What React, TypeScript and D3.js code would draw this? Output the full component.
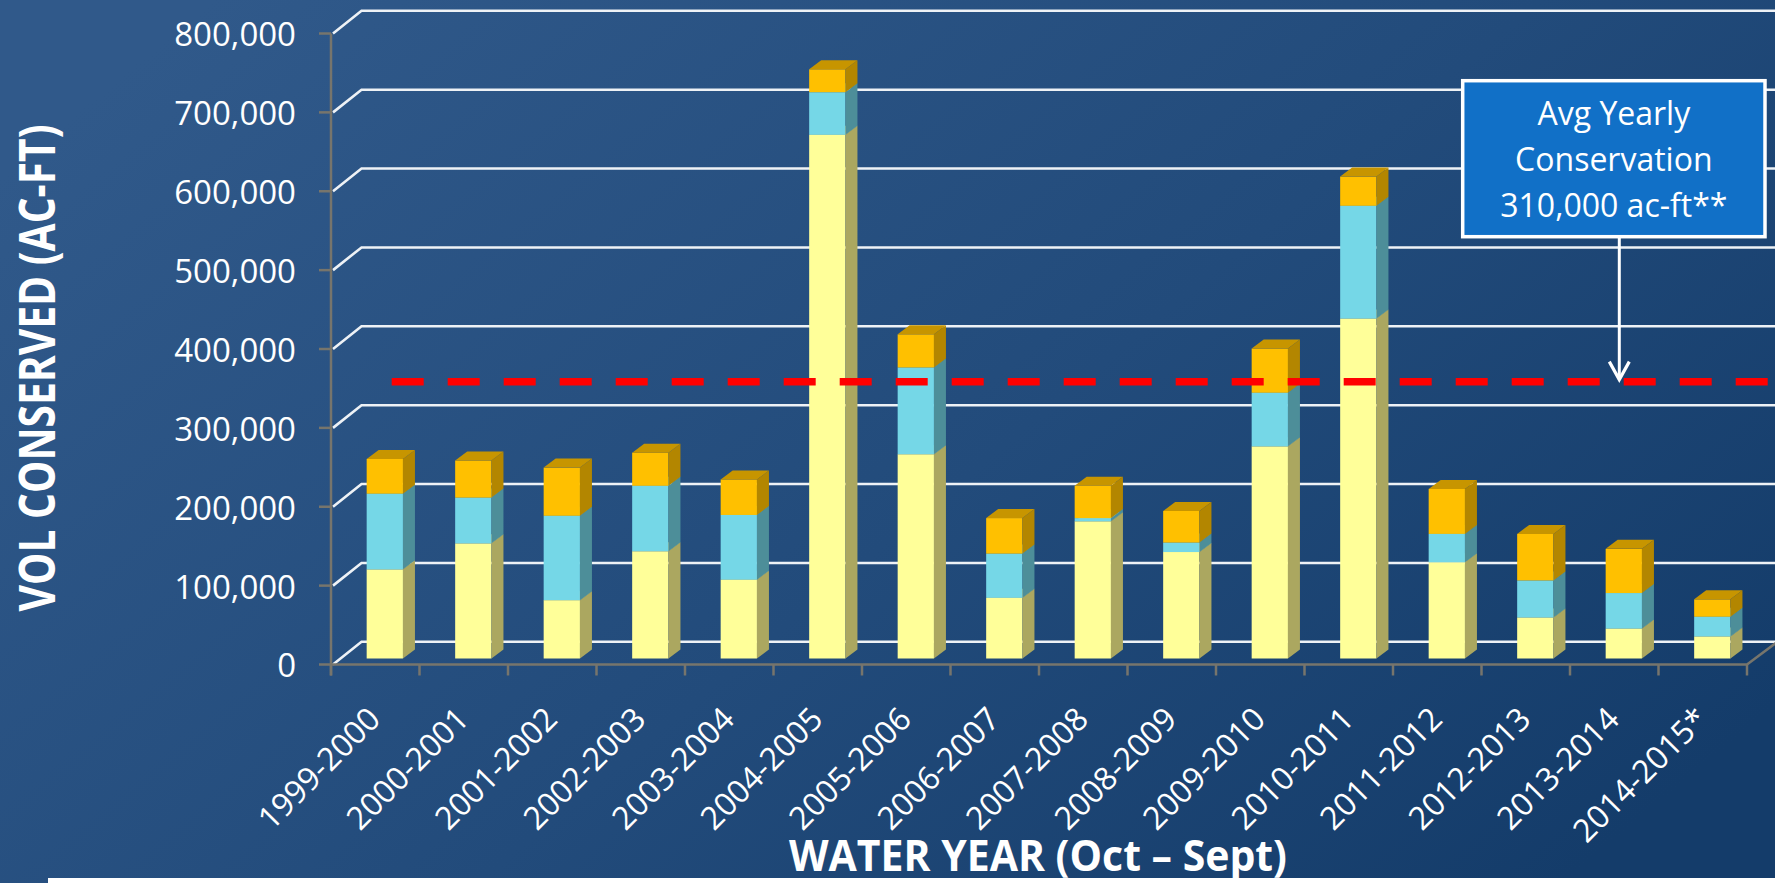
import { useEffect, useRef } from 'react';
import * as d3 from 'd3';

// water years and the three stacked components (ac-ft)
const years = [
  '1999-2000', '2000-2001', '2001-2002', '2002-2003', '2003-2004', '2004-2005',
  '2005-2006', '2006-2007', '2007-2008', '2008-2009', '2009-2010', '2010-2011',
  '2011-2012', '2012-2013', '2013-2014', '2014-2015*',
];
const yellowVol = [113000, 146000, 74000, 136000, 100000, 664000, 259000, 77000, 174000, 135000, 269000, 431000, 122000, 52000, 38000, 28000];
const cyanVol = [96000, 58000, 107000, 83000, 82000, 54000, 110000, 56000, 4000, 12000, 68000, 143000, 36000, 47000, 45000, 25000];
const orangeVol = [44000, 47000, 61000, 42000, 45000, 29000, 42000, 45000, 41000, 40000, 56000, 37000, 57000, 59000, 56000, 22000];
const yTicks = [0, 100000, 200000, 300000, 400000, 500000, 600000, 700000, 800000];
const avgLineLevel = 351000; // where the dashed line is drawn
const avgLabel = ['Avg Yearly', 'Conservation', '310,000 ac-ft**'];

type Row = { year: string; yellow: number; cyan: number; orange: number };

const W = 1775;
const H = 883;
const FONT = '"Open Sans", "Noto Sans", sans-serif';

const faceColors: Record<string, { front: string; side: string; top: string }> = {
  yellow: { front: '#ffff99', side: '#aba760', top: '#d6d480' },
  cyan: { front: '#75d7e7', side: '#4d8e99', top: '#5fb2bf' },
  orange: { front: '#ffc000', side: '#b38600', top: '#c79500' },
};

export default function App() {
  const svgRef = useRef<SVGSVGElement>(null);

  useEffect(() => {
    document.body.style.margin = '0';
    if (!svgRef.current) return;

    const svg = d3.select(svgRef.current);
    svg.selectAll('*').remove();

    const rows: Row[] = years.map((year, i) => ({
      year, yellow: yellowVol[i], cyan: cyanVol[i], orange: orangeVol[i],
    }));

    // front plane scales
    const xScale = d3.scaleBand().domain(years).range([331, 1747]);
    const yScale = d3.scaleLinear().domain([0, 800000]).range([664.5, 33.5]);
    const bw = xScale.bandwidth();

    // oblique depth
    const wallDX = 30.5;
    const wallDY = -22.7;
    const barDY = -6;
    const barDepthX = 12;
    const barDepthY = -9;

    // 背景
    const defs = svg.append('defs');
    const grad = defs.append('linearGradient')
      .attr('id', 'bg')
      .attr('x1', 0).attr('y1', 0.2)
      .attr('x2', 1).attr('y2', 0.8);
    grad.append('stop').attr('offset', 0).attr('stop-color', '#30598a');
    grad.append('stop').attr('offset', 0.55).attr('stop-color', '#224b7b');
    grad.append('stop').attr('offset', 1).attr('stop-color', '#143c6a');

    svg.append('rect').attr('width', W).attr('height', H).attr('fill', 'url(#bg)');
    svg.append('rect')
      .attr('x', 48).attr('y', 878)
      .attr('width', W - 48).attr('height', H - 878)
      .attr('fill', '#ffffff');

    // 网格 (back wall + left wall)
    const grid = svg.append('g')
      .attr('stroke', '#eef2f6')
      .attr('stroke-width', 2.6)
      .attr('fill', 'none');
    yTicks.forEach(v => {
      const y = yScale(v);
      grid.append('path')
        .attr('d', `M${xScale.range()[0] + 2},${y} L${xScale.range()[0] + wallDX},${y + wallDY} L${W},${y + wallDY}`);
    });

    // axes
    const axisColor = '#77756c';
    const axes = svg.append('g').attr('stroke', axisColor).attr('stroke-width', 2.5).attr('fill', 'none');
    const x0 = xScale.range()[0];
    const x1 = xScale.range()[1];
    axes.append('line').attr('x1', x0).attr('x2', x0).attr('y1', yScale(800000)).attr('y2', yScale(0) + 11);
    yTicks.forEach(v => {
      axes.append('line').attr('x1', x0 - 12).attr('x2', x0).attr('y1', yScale(v)).attr('y2', yScale(v));
    });
    axes.append('path')
      .attr('d', `M${x0},${yScale(0)} L${x1},${yScale(0)} L${x1 + wallDX},${yScale(0) + wallDY}`);
    [...years.map(c => xScale(c) as number), x1].forEach(x => {
      axes.append('line').attr('x1', x).attr('x2', x).attr('y1', yScale(0)).attr('y2', yScale(0) + 11);
    });

    // stacked 3D bars
    const keys = ['yellow', 'cyan', 'orange'] as const;
    const stacked = d3.stack<Row>().keys(keys as unknown as string[])(rows);
    const bars = svg.append('g');
    rows.forEach((r, i) => {
      const bx = (xScale(r.year) as number) + bw * 0.403;
      const w = bw * 0.41;
      stacked.forEach((layer, li) => {
        const seg = layer[i];
        const yTop = yScale(seg[1]) + barDY;
        const yBot = yScale(seg[0]) + barDY;
        const c = faceColors[keys[li]];
        bars.append('rect')
          .attr('x', bx).attr('y', yTop)
          .attr('width', w).attr('height', Math.max(0, yBot - yTop))
          .attr('fill', c.front);
        bars.append('polygon')
          .attr('points', [
            [bx + w, yBot], [bx + w + barDepthX, yBot + barDepthY],
            [bx + w + barDepthX, yTop + barDepthY], [bx + w, yTop],
          ].map(p => p.join(',')).join(' '))
          .attr('fill', c.side);
        bars.append('polygon')
          .attr('points', [
            [bx, yTop], [bx + w, yTop],
            [bx + w + barDepthX, yTop + barDepthY], [bx + barDepthX, yTop + barDepthY],
          ].map(p => p.join(',')).join(' '))
          .attr('fill', c.top);
      });
    });

    // 平均线
    const avgY = yScale(avgLineLevel) + barDY;
    svg.append('line')
      .attr('x1', 391.7).attr('x2', W)
      .attr('y1', avgY).attr('y2', avgY)
      .attr('stroke', '#ff0000')
      .attr('stroke-width', 7.5)
      .attr('stroke-dasharray', '32,24');

    // callout box + arrow
    const boxX = 1462.7;
    const boxY = 80.7;
    const boxW = 302.3;
    const boxH = 156;
    const arrowX = 1619.3;
    svg.append('line')
      .attr('x1', arrowX).attr('x2', arrowX)
      .attr('y1', boxY + boxH).attr('y2', avgY - 2)
      .attr('stroke', '#ffffff').attr('stroke-width', 3);
    svg.append('polyline')
      .attr('points', `${arrowX - 10},${avgY - 20} ${arrowX},${avgY - 2} ${arrowX + 10},${avgY - 20}`)
      .attr('fill', 'none')
      .attr('stroke', '#ffffff').attr('stroke-width', 3.2);
    svg.append('rect')
      .attr('x', boxX).attr('y', boxY)
      .attr('width', boxW).attr('height', boxH)
      .attr('fill', '#1170c7')
      .attr('stroke', '#ffffff').attr('stroke-width', 3.5);
    avgLabel.forEach((t, i) => {
      svg.append('text')
        .attr('x', boxX + boxW / 2)
        .attr('y', 125 + i * 45.8)
        .attr('text-anchor', 'middle')
        .attr('fill', '#ffffff')
        .attr('font-family', FONT)
        .attr('font-size', 32)
        .text(t);
    });

    // y tick labels
    const yLab = svg.append('g')
      .attr('fill', '#ffffff')
      .attr('font-family', FONT)
      .attr('font-size', 33)
      .attr('text-anchor', 'end');
    yTicks.forEach(v => {
      yLab.append('text')
        .attr('x', 296)
        .attr('y', yScale(v) + 1)
        .attr('dy', '0.36em')
        .text(d3.format(',')(v));
    });

    // x tick labels
    const xLab = svg.append('g')
      .attr('fill', '#ffffff')
      .attr('font-family', FONT)
      .attr('font-size', 32)
      .attr('text-anchor', 'end');
    years.forEach(c => {
      const cx = (xScale(c) as number) + bw / 2 + 7;
      xLab.append('text')
        .attr('transform', `translate(${cx},721) rotate(-45)`)
        .text(c);
    });

    // axis titles
    svg.append('text')
      .attr('transform', 'translate(55,368) rotate(-90)')
      .attr('text-anchor', 'middle')
      .attr('fill', '#ffffff')
      .attr('font-family', FONT)
      .attr('font-weight', 700)
      .attr('font-size', 50)
      .attr('textLength', 487)
      .attr('lengthAdjust', 'spacingAndGlyphs')
      .text('VOL CONSERVED (AC-FT)');

    svg.append('text')
      .attr('x', 1038)
      .attr('y', 871)
      .attr('text-anchor', 'middle')
      .attr('fill', '#ffffff')
      .attr('font-family', FONT)
      .attr('font-weight', 700)
      .attr('font-size', 43)
      .attr('textLength', 498)
      .attr('lengthAdjust', 'spacingAndGlyphs')
      .text('WATER YEAR (Oct \u2013 Sept)');
  }, []);

  return (
    <svg ref={svgRef} width={W} height={H} style={{ display: 'block' }} />
  );
}
